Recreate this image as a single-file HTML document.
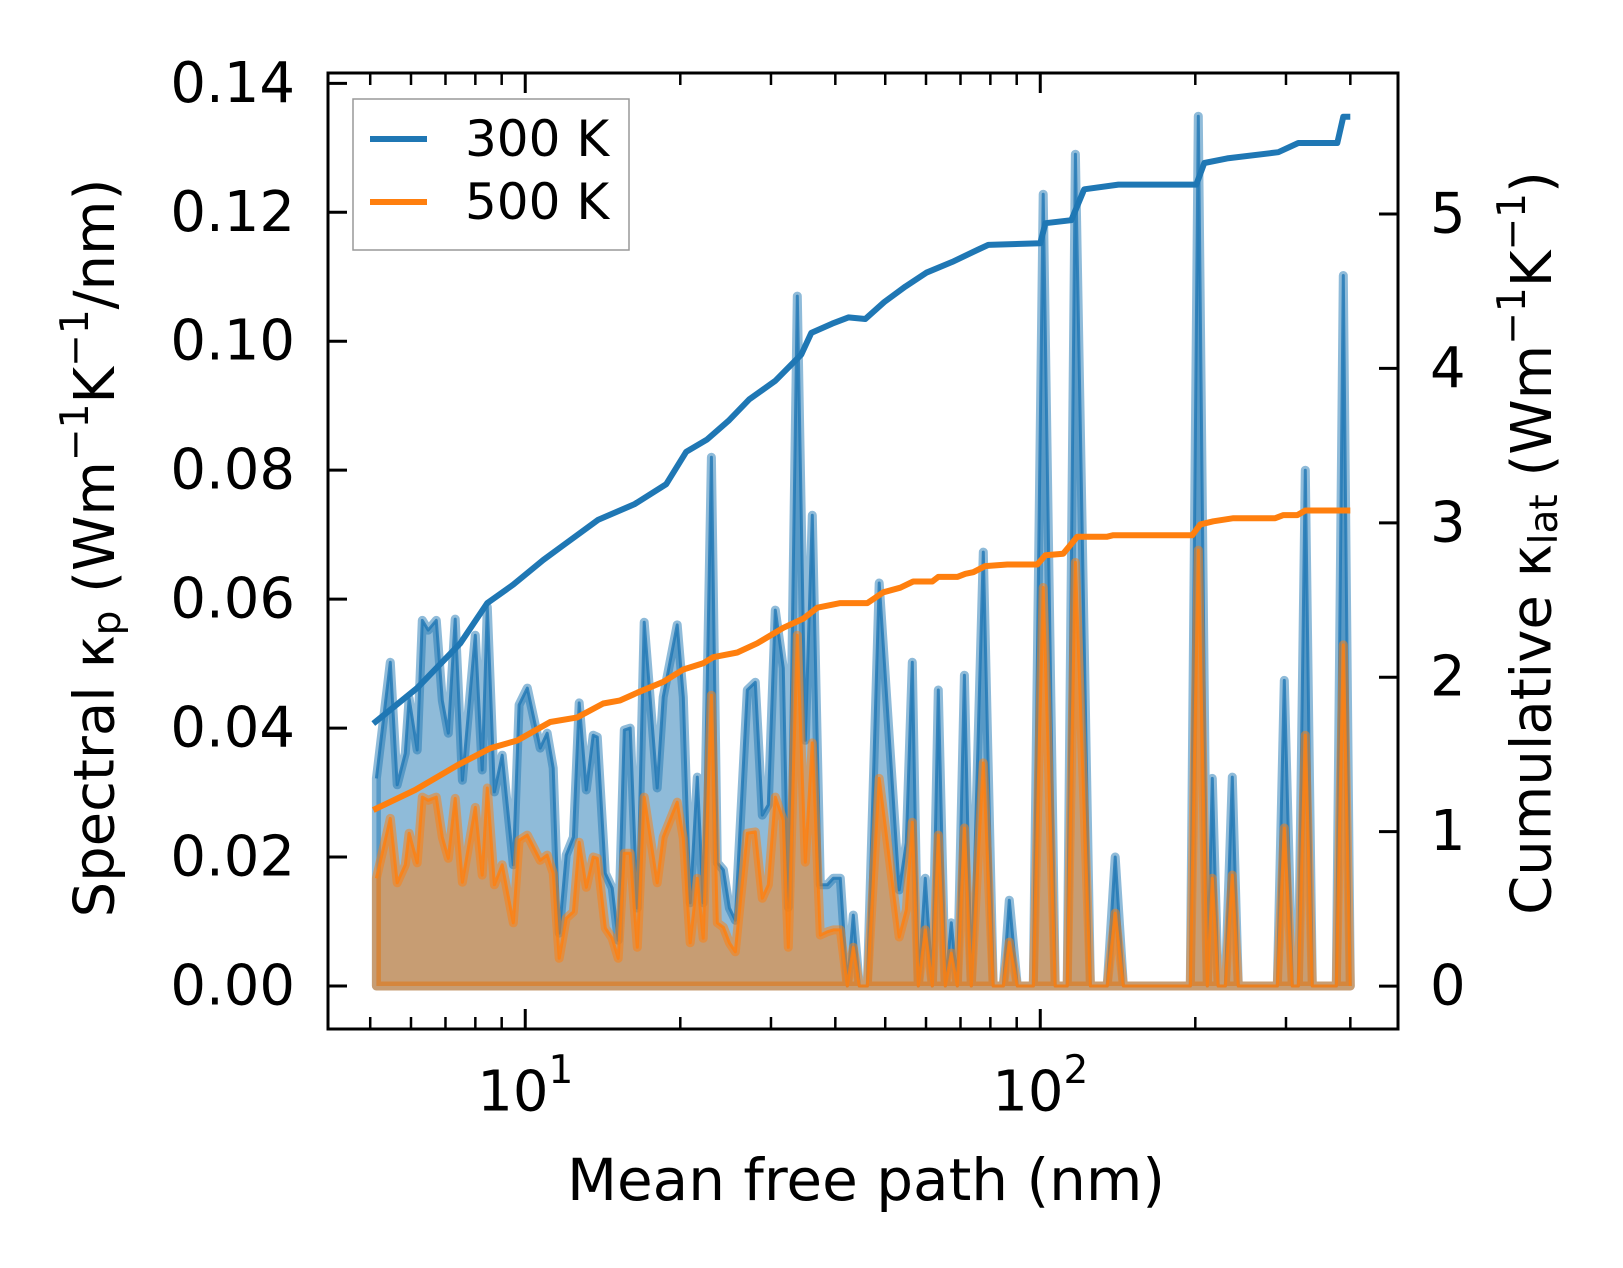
<!DOCTYPE html>
<html><head><meta charset="utf-8"><style>
html,body{margin:0;padding:0;background:#fff;}
svg{display:block;font-family:"DejaVu Sans","Liberation Sans",sans-serif;}
</style></head><body>
<svg id="chart" width="1623" height="1268" viewBox="0 0 1623 1268" xmlns="http://www.w3.org/2000/svg">
<g id="plot"></g>
<g id="axes"></g>
</svg>
<script>
// ---- data ----
const mfpSpectral = [5.14,5.47,5.64,5.85,5.95,6.17,6.31,6.48,6.72,6.90,7.09,7.31,7.55,8.00,8.25,8.44,8.71,9.02,9.48,9.73,10.09,10.69,11.03,11.33,11.64,12.01,12.40,12.73,13.14,13.55,13.80,14.30,14.75,15.15,15.57,15.99,16.50,17.02,18.04,18.53,19.73,20.27,20.91,21.58,22.16,22.98,23.60,24.25,24.91,25.58,26.99,27.97,28.86,29.64,30.59,31.70,32.42,33.75,34.98,36.09,37.40,38.59,39.64,40.90,42.20,43.35,44.52,46.15,48.68,53.23,54.93,56.42,57.97,59.81,61.72,63.39,65.40,67.19,69.02,71.22,73.45,77.50,81.04,84.76,87.06,90.24,96.92,101.3,106.9,112.8,117.0,125.1,134.9,139.8,145.0,195.6,202.7,211.0,215.8,221.6,228.7,236.0,242.4,288.6,297.8,308.6,317.0,327.1,337.5,375.7,387.6,400.0];
const spectral300 = [0.0322,0.0502,0.0312,0.0361,0.0446,0.0366,0.0567,0.0552,0.0567,0.0443,0.0392,0.0569,0.0319,0.0544,0.0335,0.0588,0.0301,0.0358,0.0188,0.0436,0.0462,0.0369,0.0392,0.0338,0.0082,0.0203,0.0231,0.0439,0.0304,0.0389,0.0386,0.0175,0.0152,0.0071,0.0397,0.0400,0.0121,0.0564,0.0307,0.0448,0.0560,0.0448,0.0129,0.0324,0.0129,0.0820,0.0191,0.0180,0.0121,0.0102,0.0459,0.0471,0.0265,0.0281,0.0583,0.0493,0.0122,0.1070,0.0381,0.0730,0.0157,0.0157,0.0167,0.0167,0,0.0110,0,0,0.0625,0.0149,0.0222,0.0502,0,0.0167,0,0.0459,0,0.0098,0,0.0482,0,0.0673,0,0,0.0133,0,0,0.1228,0,0,0.1290,0,0,0.0200,0,0,0.1349,0,0.0322,0,0,0.0324,0,0,0.0474,0,0,0.0800,0,0,0.1102,0];
const spectral500 = [0.0167,0.0260,0.0160,0.0188,0.0237,0.0191,0.0293,0.0288,0.0293,0.0231,0.0198,0.0291,0.0161,0.0277,0.0172,0.0307,0.0157,0.0188,0.0098,0.0226,0.0234,0.0195,0.0203,0.0175,0.0043,0.0105,0.0115,0.0223,0.0153,0.0200,0.0198,0.0090,0.0074,0.0043,0.0206,0.0206,0.0060,0.0293,0.0160,0.0231,0.0285,0.0229,0.0067,0.0167,0.0074,0.0451,0.0098,0.0091,0.0067,0.0053,0.0237,0.0239,0.0136,0.0157,0.0293,0.0257,0.0060,0.0544,0.0192,0.0377,0.0079,0.0084,0.0087,0.0087,0,0.0060,0,0,0.0322,0.0076,0.0118,0.0254,0,0.0087,0,0.0234,0,0.0051,0,0.0245,0,0.0346,0,0,0.0068,0,0,0.0618,0,0,0.0657,0,0,0.0113,0,0,0.0676,0,0.0167,0,0,0.0172,0,0,0.0245,0,0,0.0389,0,0,0.0529,0];
const mfpCum300 = [5.07,6.17,7.48,8.44,9.48,10.84,11.80,13.86,16.28,18.78,20.54,22.56,24.80,27.23,30.59,34.36,35.93,39.46,42.40,45.74,49.80,54.70,60.07,67.48,75.81,79.25,100.0,102.3,114.9,121.7,141.8,200.9,208.2,230.7,289.9,317.0,377.4,387.6,400.0];
const cum300 = [1.70,1.93,2.22,2.48,2.60,2.76,2.85,3.02,3.12,3.25,3.46,3.54,3.66,3.80,3.92,4.09,4.23,4.29,4.33,4.32,4.43,4.53,4.62,4.69,4.77,4.80,4.81,4.94,4.96,5.16,5.19,5.19,5.33,5.36,5.40,5.46,5.46,5.63,5.63];
const mfpCum500 = [5.07,6.11,7.38,8.55,9.65,11.18,12.62,14.17,15.29,16.50,18.53,20.27,22.16,23.17,25.81,28.21,31.70,34.67,36.90,40.90,46.15,49.57,53.48,56.67,61.72,63.39,69.02,71.54,74.13,78.19,86.29,98.67,102.3,110.8,118.0,134.9,138.6,197.3,204.5,216.8,237.1,285.9,296.5,315.5,327.1,400.0];
const cum500 = [1.14,1.27,1.43,1.54,1.59,1.71,1.74,1.83,1.85,1.90,1.97,2.05,2.09,2.13,2.16,2.22,2.32,2.38,2.45,2.48,2.48,2.55,2.58,2.62,2.62,2.65,2.65,2.67,2.68,2.72,2.73,2.73,2.79,2.80,2.91,2.91,2.92,2.92,2.99,3.01,3.03,3.03,3.05,3.05,3.08,3.08];
const leftTicks = [0,0.02,0.04,0.06,0.08,0.10,0.12,0.14];
const leftTickLabels = ["0.00","0.02","0.04","0.06","0.08","0.10","0.12","0.14"];
const rightTicks = [0,1,2,3,4,5];
const rightTickLabels = ["0","1","2","3","4","5"];
const seriesNames = ["300 K","500 K"];

// ---- scales ----
const L=328,R=1398,T=73,B=1029;
const xMin=Math.log10(4.14), xMax=Math.log10(495);
const yMin=-0.00667, yMax=0.1416;
const y2Min=-0.278, y2Max=5.913;
const xs=v=>L+(Math.log10(v)-xMin)/(xMax-xMin)*(R-L);
const ys=v=>B-(v-yMin)/(yMax-yMin)*(B-T);
const y2s=v=>B-(v-y2Min)/(y2Max-y2Min)*(B-T);
const NS="http://www.w3.org/2000/svg";
const plot=document.getElementById('plot'), axes=document.getElementById('axes');
function mk(tag,attrs,parent){const e=document.createElementNS(NS,tag);for(const k in attrs)e.setAttribute(k,attrs[k]);parent.appendChild(e);return e;}

const C1="#1f77b4", C2="#ff7f0e";
function spectral(vals,col,name){
  let pts=mfpSpectral.map((m,i)=>xs(m).toFixed(1)+","+ys(vals[i]).toFixed(1));
  const x0=xs(mfpSpectral[0]).toFixed(1), x1=xs(mfpSpectral[mfpSpectral.length-1]).toFixed(1), y0=ys(0).toFixed(1);
  const poly=mk('polygon',{points:x0+","+y0+" "+pts.join(" ")+" "+x1+","+y0,fill:col,'fill-opacity':0.5,stroke:col,'stroke-opacity':0.5,'stroke-width':9,'stroke-linejoin':'round'},plot);
  
  
  const ln=mk('polyline',{points:pts.join(" "),fill:'none',stroke:col,'stroke-width':3,'stroke-opacity':0.8,'stroke-linejoin':'round'},plot);
  
  
}
spectral(spectral300,C1,'spectral-300k');
spectral(spectral500,C2,'spectral-500k');
function cum(xv,yv,col,name){
  const pts=xv.map((m,i)=>xs(m).toFixed(1)+","+y2s(yv[i]).toFixed(1)).join(" ");
  const ln=mk('polyline',{points:pts,fill:'none',stroke:col,'stroke-width':6,'stroke-linejoin':'round'},plot);
  
  
}
cum(mfpCum300,cum300,C1,'cumulative-300k-line');
cum(mfpCum500,cum500,C2,'cumulative-500k-line');

// frame
const fr=mk('rect',{x:L,y:T,width:R-L,height:B-T,fill:'none',stroke:'#000','stroke-width':3},axes);


function tick(x1,y1,x2,y2,w){mk('line',{x1,y1,x2,y2,stroke:'#000','stroke-width':w},axes);}
function txt(x,y,s,anchor,size,name){const t=mk('text',{x,y,'text-anchor':anchor,'font-size':size,'dominant-baseline':'central',fill:'#000'},axes);t.textContent=s;return t;}
leftTicks.forEach((v,i)=>{const y=ys(v);tick(L,y,L+19,y,3);txt(295,y,leftTickLabels[i],'end',56,'y-tick-label');});
rightTicks.forEach((v,i)=>{const y=y2s(v);tick(R,y,R-19,y,3);txt(1430,y,rightTickLabels[i],'start',56,'y2-tick-label');});
// x ticks
for(let d=0;d<=3;d++){for(let k=1;k<10;k++){const v=k*Math.pow(10,d);const lv=Math.log10(v);if(lv<xMin||lv>xMax)continue;const x=xs(v);const major=k===1;const len=major?20:12;const w=major?3:2.5;tick(x,B,x,B-len,w);tick(x,T,x,T+len,w);}}
[10,100].forEach((v,i)=>{const x=xs(v);const t=mk('text',{x:x,y:1092,'text-anchor':'middle','font-size':56,'dominant-baseline':'central'},axes);t.innerHTML='10<tspan font-size="39" dy="-22">'+(i+1)+'</tspan>';});
// axis titles
const xt=txt(866,1180,'Mean free path (nm)','middle',58,'x-axis-title');
const yt=mk('text',{x:0,y:0,'text-anchor':'middle','font-size':56,'dominant-baseline':'central',transform:'translate(95,548) rotate(-90)'},axes);

yt.innerHTML='Spectral κ<tspan font-size="39" dy="12">p</tspan><tspan dy="-12"> (Wm</tspan><tspan font-size="39" dy="-20">−1</tspan><tspan dy="20">K</tspan><tspan font-size="39" dy="-20">−1</tspan><tspan dy="20">/nm)</tspan>';
const y2t=mk('text',{x:0,y:0,'text-anchor':'middle','font-size':56,'dominant-baseline':'central',transform:'translate(1532,543) rotate(-90)'},axes);

y2t.innerHTML='Cumulative κ<tspan font-size="39" dy="12">lat</tspan><tspan dy="-12"> (Wm</tspan><tspan font-size="39" dy="-20">−1</tspan><tspan dy="20">K</tspan><tspan font-size="39" dy="-20">−1</tspan><tspan dy="20">)</tspan>';
// legend
const lg=mk('g',{},axes);
mk('rect',{x:353,y:99,width:276,height:151,fill:'#fff','fill-opacity':0.8,stroke:'#999','stroke-width':1.5},lg);
[[C1,139],[C2,202]].forEach((c,i)=>{const l=mk('line',{x1:370,y1:c[1],x2:427,y2:c[1],stroke:c[0],'stroke-width':6},lg);
const t=mk('text',{x:465,y:c[1],'font-size':50,'dominant-baseline':'central'},lg);t.textContent=seriesNames[i];});
</script>
</body></html>
